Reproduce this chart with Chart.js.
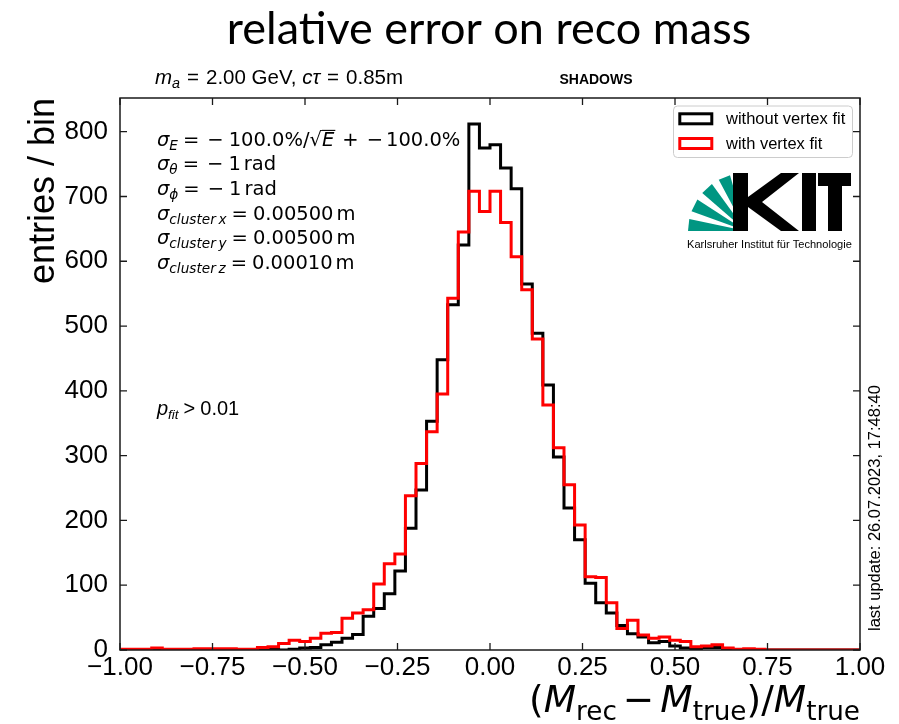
<!DOCTYPE html>
<html><head><meta charset="utf-8">
<script src="https://cdn.jsdelivr.net/npm/chart.js@4.4.0/dist/chart.umd.min.js"></script>
<style>html,body{margin:0;padding:0;background:#fff;}canvas{display:block;}</style>
</head><body>
<canvas id="c" width="899" height="724"></canvas>
<script>
// ---------------- data ----------------
const BIN_MIN = -1.0, BIN_MAX = 1.0, N_BINS = 70;
const seriesLabels = ['without vertex fit', 'with vertex fit'];
const seriesColors = ['#000000', '#ff0000'];
// 70 bins from -1 to 1
const countsWithout = [
  0,0,0,0,0,0,0,0,0,0,
  0,0,0,1,1,0,1,3,4,8,
  12,18,24,52,64,87,122,188,247,353,
  448,533,625,812,775,780,744,712,565,489,
  409,298,219,170,103,73,57,38,25,20,
  11,13,6,3,2,4,4,1,0,0,
  0,0,0,0,0,0,0,0,0,0
];
const countsWith = [
  1,1,1,3,1,1,1,2,2,2,
  2,1,1,4,5,10,15,13,18,26,
  27,49,57,62,102,133,148,238,288,337,
  395,543,645,708,677,708,660,607,556,480,
  378,312,255,193,113,112,73,33,46,23,
  18,20,15,13,5,6,8,3,1,2,
  1,0,0,0,0,0,0,0,0,0
];
const xTickValues = [-1.00, -0.75, -0.50, -0.25, 0.00, 0.25, 0.50, 0.75, 1.00];
const yTickValues = [0, 100, 200, 300, 400, 500, 600, 700, 800];
const Y_MAX = 852;

// ---------------- helpers ----------------
const binWidth = (BIN_MAX - BIN_MIN) / N_BINS;
function stepPoints(counts) {
  const pts = [];
  for (let k = 0; k <= counts.length; k++) {
    pts.push({x: BIN_MIN + k * binWidth, y: counts[Math.min(k, counts.length - 1)]});
  }
  return pts;
}
const fmtMinus = v => (v < 0 ? '\u2212' : '') + Math.abs(v).toFixed(2);

function drawRuns(ctx, x, y, runs, align) {
  let w = 0;
  runs.forEach(r => {
    if (r.gap !== undefined) { r.w = r.gap; }
    else { ctx.font = r.f; r.w = ctx.measureText(r.t).width; }
    w += r.w;
  });
  let cx = align === 'right' ? x - w : (align === 'center' ? x - w / 2 : x);
  ctx.textAlign = 'left';
  ctx.textBaseline = 'alphabetic';
  runs.forEach(r => {
    if (r.gap === undefined) {
      ctx.font = r.f;
      ctx.fillText(r.t, cx, y + (r.dy || 0));
      if (r.over) {
        ctx.save();
        ctx.lineWidth = r.over.lw;
        ctx.beginPath();
        ctx.moveTo(cx - r.over.ext, y - r.over.h);
        ctx.lineTo(cx + r.w + 1, y - r.over.h);
        ctx.stroke();
        ctx.restore();
      }
    }
    cx += r.w;
  });
  return w;
}

const DV = '"DejaVu Sans"';
const LS = '"Liberation Sans", Arial, sans-serif';
const MFS = 19.5;
const mN = t => ({t, f: `${MFS}px ${DV}`});
const mI = t => ({t, f: `italic ${MFS}px ${DV}`});
const mSub = t => ({t, f: `italic ${MFS * 0.7}px ${DV}`, dy: MFS * 0.2});
const G = g => ({gap: g});

// ---------------- plugins ----------------
const decorPlugin = {
  id: 'decor',
  afterDatasetsDraw(chart) {
    const ctx = chart.ctx;
    const a = chart.chartArea;
    const xs = chart.scales.x, ys = chart.scales.y;
    ctx.save();
    ctx.strokeStyle = '#1a1a1a';
    ctx.lineWidth = 1.5;
    ctx.strokeRect(a.left, a.top, a.right - a.left, a.bottom - a.top);
    const TL = 7;
    ctx.lineWidth = 1.3;
    ctx.beginPath();
    ys.ticks.forEach(t => {
      const py = ys.getPixelForValue(t.value);
      ctx.moveTo(a.left, py); ctx.lineTo(a.left + TL, py);
      ctx.moveTo(a.right, py); ctx.lineTo(a.right - TL, py);
    });
    xs.ticks.forEach(t => {
      const px = xs.getPixelForValue(t.value);
      ctx.moveTo(px, a.bottom); ctx.lineTo(px, a.bottom - TL);
      ctx.moveTo(px, a.top); ctx.lineTo(px, a.top + TL);
    });
    ctx.stroke();
    ctx.restore();
  },
  afterDraw(chart) {
    const ctx = chart.ctx;
    ctx.save();
    ctx.fillStyle = '#000';
    ctx.strokeStyle = '#000';

    // Slide title
    ctx.font = `45px Lato, "Open Sans", sans-serif`;
    ctx.textAlign = 'center';
    ctx.textBaseline = 'alphabetic';
    ctx.fillText('relative error on reco mass', 489, 44);

    // header line
    const hf = 20.5;
    drawRuns(ctx, 155, 84, [
      {t: 'm', f: `italic ${hf}px ${LS}`},
      {t: 'a', f: `italic ${hf * 0.7}px ${LS}`, dy: 3.5},
      G(7), {t: '=', f: `${hf}px ${LS}`}, G(7),
      {t: '2.00 GeV, ', f: `${hf}px ${LS}`},
      {t: 'c\u03c4', f: `italic ${hf}px ${LS}`},
      G(7), {t: '=', f: `${hf}px ${LS}`}, G(7),
      {t: '0.85m', f: `${hf}px ${LS}`}
    ]);
    ctx.font = `bold 14px ${LS}`;
    ctx.textAlign = 'center';
    ctx.fillText('SHADOWS', 596, 84);

    // sigma annotations
    const sx = 157;
    const sqrtRun = {t: '\u221a', f: `${MFS}px ${DV}`};
    const eOver = {t: 'E', f: `italic ${MFS}px ${DV}`, over: {h: MFS * 0.80, lw: 1.1, ext: 0}};
    drawRuns(ctx, sx, 146, [mI('\u03c3'), mSub('E'), G(5), mN('='), G(8), mN('\u2212'), G(5), mN('100.0%/'), sqrtRun, eOver, G(8), mN('+'), G(8), mN('\u2212'), G(3), mN('100.0%')]);
    drawRuns(ctx, sx, 170, [mI('\u03c3'), mSub('\u03b8'), G(5), mN('='), G(8), mN('\u2212'), G(5), mN('1'), G(3), mN('rad')]);
    drawRuns(ctx, sx, 195, [mI('\u03c3'), mSub('\u03d5'), G(5), mN('='), G(8), mN('\u2212'), G(5), mN('1'), G(3), mN('rad')]);
    drawRuns(ctx, sx, 220, [mI('\u03c3'), mSub('cluster\u2009x'), G(5), mN('='), G(5), mN('0.00500'), G(3), mN('m')]);
    drawRuns(ctx, sx, 244, [mI('\u03c3'), mSub('cluster\u2009y'), G(5), mN('='), G(5), mN('0.00500'), G(3), mN('m')]);
    drawRuns(ctx, sx, 269, [mI('\u03c3'), mSub('cluster\u2009z'), G(5), mN('='), G(5), mN('0.00010'), G(3), mN('m')]);

    // p_fit
    drawRuns(ctx, 157, 415, [
      {t: 'p', f: `italic 20px ${LS}`},
      {t: 'fit', f: `italic 13.5px ${LS}`, dy: 3.5},
      G(5), {t: '>', f: `20px ${LS}`}, G(5),
      {t: '0.01', f: `20px ${LS}`}
    ]);

    // last update (rotated)
    ctx.save();
    ctx.translate(880, 631);
    ctx.rotate(-Math.PI / 2);
    ctx.font = `16.5px ${LS}`;
    ctx.textAlign = 'left';
    ctx.textBaseline = 'alphabetic';
    ctx.fillText('last update: 26.07.2023, 17:48:40', 0, 0);
    ctx.restore();

    // x-axis title
    const XF = 37.5;
    drawRuns(ctx, 860, 712, [
      {t: '(', f: `${XF}px ${DV}`},
      {t: 'M', f: `italic ${XF}px ${DV}`},
      {t: 'rec', f: `${XF * 0.7}px ${DV}`, dy: XF * 0.2},
      G(6), {t: '\u2212', f: `${XF}px ${DV}`}, G(6),
      {t: 'M', f: `italic ${XF}px ${DV}`},
      {t: 'true', f: `${XF * 0.7}px ${DV}`, dy: XF * 0.2},
      {t: ')/', f: `${XF}px ${DV}`},
      {t: 'M', f: `italic ${XF}px ${DV}`},
      {t: 'true', f: `${XF * 0.7}px ${DV}`, dy: XF * 0.2}
    ], 'right');

    // legend
    const lx = 673.5, ly = 106, lw = 179, lh = 51.5;
    ctx.beginPath();
    ctx.roundRect(lx, ly, lw, lh, 4);
    ctx.fillStyle = 'rgba(255,255,255,0.8)';
    ctx.fill();
    ctx.strokeStyle = '#cccccc';
    ctx.lineWidth = 1;
    ctx.stroke();
    chart.data.datasets.forEach((ds, i) => {
      const ry = 113.8 + i * 24.7;
      ctx.strokeStyle = ds.borderColor;
      ctx.lineWidth = 3;
      ctx.strokeRect(679.8, ry, 32, 10);
      ctx.fillStyle = '#000';
      ctx.font = `16.5px ${LS}`;
      ctx.textAlign = 'left';
      ctx.textBaseline = 'middle';
      ctx.fillText(ds.label, 726, ry + 5.5);
    });

    // KIT logo
    const cx = 746, cy = 231, r = 58;
    ctx.fillStyle = '#009682';
    [[0, 12], [20, 33], [41, 54], [62, 74]].forEach(([a0, a1]) => {
      const p = ang => [cx - r * Math.cos(ang * Math.PI / 180), cy - r * Math.sin(ang * Math.PI / 180)];
      ctx.beginPath();
      ctx.moveTo(cx, cy);
      ctx.lineTo(...p(a0));
      ctx.lineTo(...p(a1));
      ctx.closePath();
      ctx.fill();
    });
    ctx.fillStyle = '#000';
    const poly = pts => { ctx.beginPath(); ctx.moveTo(pts[0][0], pts[0][1]); pts.slice(1).forEach(q => ctx.lineTo(q[0], q[1])); ctx.closePath(); ctx.fill(); };
    poly([[733,173],[748,173],[748,197],[781,173],[799,173],[762,202],[799,231],[781,231],[748,207],[748,231],[733,231]]);
    poly([[802,173],[816,173],[816,231],[802,231]]);
    poly([[818,173],[851,173],[851,186],[842,186],[842,231],[828,231],[828,186],[818,186]]);
    const kt = 'Karlsruher Institut f\u00fcr Technologie';
    ctx.font = `11px ${LS}`;
    const kw = ctx.measureText(kt).width;
    const kfs = 11 * 165 / kw;
    ctx.font = `${kfs}px ${LS}`;
    ctx.textAlign = 'left';
    ctx.textBaseline = 'alphabetic';
    ctx.fillText(kt, 687, 248);

    ctx.restore();
  }
};

Chart.defaults.font.family = '"Liberation Sans", Arial, sans-serif';
Chart.defaults.color = '#000';

new Chart(document.getElementById('c'), {
  type: 'line',
  data: {
    datasets: [
      {label: seriesLabels[0], data: stepPoints(countsWithout), borderColor: seriesColors[0], order: 1},
      {label: seriesLabels[1], data: stepPoints(countsWith), borderColor: seriesColors[1], order: 0}
    ].map(d => Object.assign(d, {
      stepped: 'before', borderWidth: 3, pointRadius: 0, fill: false, tension: 0,
      borderJoinStyle: 'miter', borderCapStyle: 'butt', clip: 0
    }))
  },
  options: {
    responsive: false,
    animation: false,
    devicePixelRatio: 1,
    layout: {padding: {left: 0, right: 39, top: 98, bottom: 0}},
    plugins: {legend: {display: false}, tooltip: {enabled: false}, title: {display: false}},
    scales: {
      x: {
        type: 'linear', min: BIN_MIN, max: BIN_MAX,
        afterBuildTicks: s => { s.ticks = xTickValues.map(v => ({value: v})); },
        afterFit: s => { s.height = 74; },
        grid: {display: false, drawTicks: false},
        border: {display: false},
        ticks: {font: {size: 26}, color: '#000', padding: 2, maxRotation: 0, autoSkip: false,
                callback: v => fmtMinus(v)}
      },
      y: {
        type: 'linear', min: 0, max: Y_MAX,
        afterBuildTicks: s => { s.ticks = yTickValues.map(v => ({value: v})); },
        afterFit: s => { s.width = 120; },
        grid: {display: false, drawTicks: false},
        border: {display: false},
        ticks: {font: {size: 26}, color: '#000', padding: 12, callback: v => String(v)},
        title: {display: true, text: 'entries / bin', align: 'end', font: {size: 36}, color: '#000', padding: {top: 22, bottom: 0}}
      }
    }
  },
  plugins: [decorPlugin]
});
</script>
</body></html>
